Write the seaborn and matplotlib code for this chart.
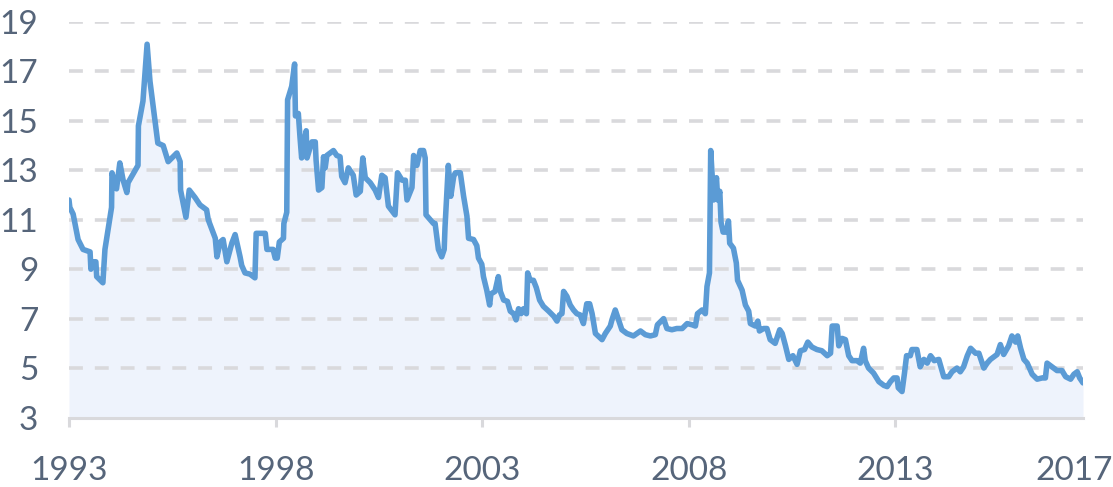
import numpy as np
import pandas as pd
import matplotlib
matplotlib.use("Agg")
import matplotlib.pyplot as plt
import seaborn as sns

# ---- data (decimal year, value) ----
years = [
    1993.00, 1993.02, 1993.10, 1993.19, 1993.22, 1993.34, 1993.51, 1993.53, 1993.58, 1993.65,
    1993.67, 1993.82, 1993.87, 1994.03, 1994.04, 1994.15, 1994.23, 1994.31, 1994.40, 1994.43,
    1994.67, 1994.68, 1994.79, 1994.89, 1994.96, 1995.15, 1995.28, 1995.40, 1995.61, 1995.69,
    1995.70, 1995.83, 1995.91, 1996.05, 1996.17, 1996.33, 1996.37, 1996.54, 1996.58, 1996.66,
    1996.73, 1996.82, 1996.94, 1997.02, 1997.14, 1997.18, 1997.26, 1997.38, 1997.50, 1997.53,
    1997.75, 1997.79, 1997.94, 1997.99, 1998.04, 1998.09, 1998.19, 1998.20, 1998.27, 1998.29,
    1998.39, 1998.46, 1998.48, 1998.55, 1998.59, 1998.63, 1998.67, 1998.74, 1998.76, 1998.84,
    1998.88, 1998.96, 1998.98, 1999.04, 1999.12, 1999.16, 1999.20, 1999.24, 1999.40, 1999.48,
    1999.56, 1999.60, 1999.68, 1999.76, 1999.88, 1999.95, 2000.05, 2000.11, 2000.17, 2000.29,
    2000.41, 2000.49, 2000.57, 2000.65, 2000.73, 2000.89, 2000.95, 2001.06, 2001.14, 2001.18,
    2001.30, 2001.34, 2001.42, 2001.50, 2001.58, 2001.62, 2001.64, 2001.82, 2001.86, 2001.94,
    2002.02, 2002.08, 2002.10, 2002.18, 2002.24, 2002.31, 2002.35, 2002.47, 2002.55, 2002.63,
    2002.67, 2002.79, 2002.87, 2002.91, 2002.99, 2003.03, 2003.11, 2003.18, 2003.21, 2003.31,
    2003.39, 2003.44, 2003.52, 2003.61, 2003.68, 2003.76, 2003.82, 2003.88, 2003.94, 2004.00,
    2004.07, 2004.10, 2004.16, 2004.24, 2004.31, 2004.39, 2004.48, 2004.61, 2004.73, 2004.81,
    2004.87, 2004.93, 2004.97, 2005.05, 2005.13, 2005.21, 2005.29, 2005.37, 2005.45, 2005.53,
    2005.60, 2005.66, 2005.74, 2005.90, 2005.98, 2006.10, 2006.14, 2006.22, 2006.30, 2006.38,
    2006.50, 2006.66, 2006.83, 2006.95, 2007.07, 2007.19, 2007.24, 2007.39, 2007.47, 2007.59,
    2007.71, 2007.84, 2007.96, 2008.08, 2008.16, 2008.21, 2008.32, 2008.40, 2008.44, 2008.50,
    2008.53, 2008.60, 2008.67, 2008.70, 2008.75, 2008.78, 2008.83, 2008.91, 2008.96, 2008.99,
    2009.08, 2009.15, 2009.18, 2009.29, 2009.37, 2009.45, 2009.49, 2009.61, 2009.67, 2009.71,
    2009.81, 2009.89, 2009.97, 2010.09, 2010.20, 2010.26, 2010.34, 2010.42, 2010.52, 2010.62,
    2010.70, 2010.80, 2010.88, 2010.98, 2011.10, 2011.22, 2011.35, 2011.43, 2011.47, 2011.59,
    2011.63, 2011.71, 2011.79, 2011.87, 2011.95, 2012.07, 2012.15, 2012.23, 2012.27, 2012.35,
    2012.47, 2012.60, 2012.72, 2012.80, 2012.88, 2012.96, 2013.04, 2013.07, 2013.16, 2013.22,
    2013.27, 2013.36, 2013.40, 2013.52, 2013.60, 2013.69, 2013.77, 2013.85, 2013.94, 2014.05,
    2014.17, 2014.29, 2014.37, 2014.49, 2014.57, 2014.65, 2014.74, 2014.82, 2014.94, 2015.02,
    2015.14, 2015.22, 2015.30, 2015.46, 2015.54, 2015.62, 2015.74, 2015.82, 2015.91, 2015.96,
    2016.03, 2016.11, 2016.19, 2016.31, 2016.43, 2016.55, 2016.63, 2016.67, 2016.79, 2016.91,
    2017.03, 2017.12, 2017.24, 2017.32, 2017.40, 2017.46, 2017.54,
]
values = [
    11.8, 11.5, 11.23, 10.45, 10.2, 9.8, 9.7, 9.0, 9.3, 9.3,
    8.7, 8.45, 9.8, 11.5, 12.9, 12.25, 13.3, 12.6, 12.1, 12.5,
    13.2, 14.8, 15.8, 18.1, 16.6, 14.1, 14.0, 13.35, 13.7, 13.35,
    12.2, 11.1, 12.2, 11.9, 11.6, 11.4, 11.0, 10.25, 9.5, 10.1,
    10.2, 9.3, 10.05, 10.4, 9.5, 9.15, 8.85, 8.8, 8.65, 10.45,
    10.45, 9.8, 9.8, 9.45, 9.45, 10.1, 10.25, 10.85, 11.3, 15.85,
    16.4, 17.3, 15.2, 15.3, 14.35, 13.5, 13.95, 14.6, 13.5, 13.95,
    14.15, 14.15, 13.4, 12.2, 12.3, 13.55, 13.1, 13.6, 13.8, 13.6,
    13.55, 12.75, 12.5, 13.1, 12.8, 12.0, 12.15, 13.5, 12.7, 12.5,
    12.2, 11.9, 12.8, 12.7, 11.55, 11.2, 12.9, 12.6, 12.6, 11.8,
    12.3, 13.6, 13.2, 13.8, 13.8, 13.5, 11.2, 10.85, 10.85, 9.8,
    9.5, 9.8, 10.7, 13.2, 11.95, 12.75, 12.9, 12.9, 11.95, 11.15,
    10.25, 10.2, 9.95, 9.45, 9.2, 8.7, 8.15, 7.55, 8.0, 8.1,
    8.7, 8.1, 7.75, 7.7, 7.3, 7.2, 6.95, 7.4, 7.2, 7.4,
    7.2, 8.85, 8.55, 8.55, 8.25, 7.75, 7.5, 7.3, 7.1, 6.9,
    7.15, 7.2, 8.1, 7.9, 7.55, 7.35, 7.2, 7.15, 6.8, 7.6,
    7.6, 7.2, 6.4, 6.15, 6.4, 6.7, 6.95, 7.35, 6.95, 6.55,
    6.4, 6.3, 6.5, 6.35, 6.3, 6.35, 6.75, 7.0, 6.6, 6.55,
    6.6, 6.6, 6.8, 6.75, 6.7, 7.2, 7.35, 7.2, 8.3, 8.85,
    13.8, 11.8, 12.7, 11.8, 12.15, 10.9, 10.5, 10.5, 10.95, 10.05,
    9.85, 9.25, 8.55, 8.15, 7.55, 7.3, 6.8, 6.7, 6.9, 6.5,
    6.6, 6.6, 6.15, 6.0, 6.55, 6.4, 5.9, 5.35, 5.5, 5.15,
    5.7, 5.75, 6.05, 5.85, 5.75, 5.7, 5.5, 5.6, 6.7, 6.7,
    5.9, 6.2, 6.15, 5.5, 5.3, 5.3, 5.2, 5.8, 5.3, 5.0,
    4.8, 4.45, 4.3, 4.25, 4.45, 4.6, 4.6, 4.2, 4.05, 4.8,
    5.5, 5.5, 5.75, 5.75, 5.05, 5.35, 5.2, 5.5, 5.3, 5.35,
    4.65, 4.65, 4.85, 5.0, 4.85, 5.05, 5.5, 5.8, 5.6, 5.6,
    5.0, 5.2, 5.35, 5.55, 5.95, 5.55, 5.9, 6.3, 6.05, 6.3,
    5.8, 5.35, 5.2, 4.75, 4.55, 4.6, 4.6, 5.2, 5.05, 4.9,
    4.9, 4.65, 4.55, 4.75, 4.85, 4.6, 4.4,
]
x_tick_years = [1993, 1998, 2003, 2008, 2013]
x_tick_labels = ["1993", "1998", "2003", "2008", "2013", "2017"]
y_ticks = [3, 5, 7, 9, 11, 13, 15, 17, 19]

df = pd.DataFrame({"year": years, "value": values})

sns.set_theme(style="white")
plt.rcParams["font.family"] = ["Lato", "DejaVu Sans"]
plt.rcParams["lines.scale_dashes"] = False

W, H = 1113, 487
fig = plt.figure(figsize=(W / 100, H / 100), dpi=100)
ax = fig.add_axes([69 / W, 1 - 417.5 / H, 1014 / W, 395.5 / H])

line_color = "#5b9bd5"
fill_color = "#eef3fc"
grid_color = "#d9d9dc"
text_color = "#56657a"

ax.fill_between(df["year"], df["value"], 3, color=fill_color, lw=0, zorder=1)
sns.lineplot(data=df, x="year", y="value", ax=ax, color=line_color, lw=4.0,
             solid_joinstyle="round", solid_capstyle="round", zorder=3, sort=False)

ax.set_xlim(df["year"].iloc[0], df["year"].iloc[-1])
ax.set_ylim(3, 19)
ax.set_yticks(y_ticks)
ax.set_yticklabels([str(v) for v in y_ticks])
ax.set_xticks(x_tick_years + [df["year"].iloc[-1] - 0.22])
ax.set_xticklabels(x_tick_labels)
ax.set_xlabel("")
ax.set_ylabel("")

ax.set_axisbelow("line")
ax.yaxis.grid(True, color=grid_color, lw=2.6, linestyle=(0, (10, 8.6)))
ax.xaxis.grid(False)
ax.yaxis.get_major_ticks()[0].gridline.set_visible(False)

for s in ["top", "right", "left"]:
    ax.spines[s].set_visible(False)
ax.spines["bottom"].set_color(grid_color)
ax.spines["bottom"].set_linewidth(2.2)
ax.spines["bottom"].set_zorder(4)

ax.tick_params(axis="y", length=0, pad=22, labelsize=24, labelcolor=text_color)
ax.tick_params(axis="x", length=6.5, width=2.2, color=grid_color, direction="out",
               pad=21, labelsize=24, labelcolor=text_color, bottom=True)
ax.xaxis.get_major_ticks()[-1].tick1line.set_visible(False)

fig.savefig("out.png", dpi=100)
